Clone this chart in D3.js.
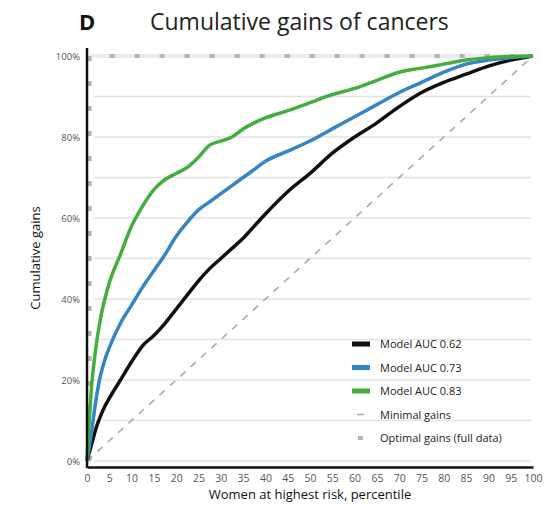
<!DOCTYPE html>
<html>
<head>
<meta charset="utf-8">
<script src="https://cdn.jsdelivr.net/npm/d3@7"></script>
<style>
  body { margin: 0; background: #fff; }
  svg { font-family: "Open Sans", "Noto Sans", sans-serif; }
</style>
</head>
<body>
<div id="chart"></div>
<script>
// percentile of women (x) and cumulative gains in % (y)
var pct = [0, 1, 2, 3, 4, 5, 7.5, 10, 12.5, 15, 17.5, 20, 22.5, 25, 27.5, 30, 32.5, 35, 37.5, 40,
           45, 50, 55, 60, 65, 70, 75, 80, 85, 90, 95, 100];
var auc62 = [0, 4, 8, 11, 13.5, 15.5, 20, 24.5, 28.5, 31, 34, 37.5, 41, 44.5, 47.5, 50, 52.5, 55, 58, 61,
             66.5, 71, 76, 80, 83.5, 87.5, 91, 93.5, 95.5, 97.5, 99, 100];
var auc73 = [0, 7, 15, 21, 25, 28, 34, 38.5, 43, 47, 51, 55.5, 59, 62, 64, 66, 68, 70, 72, 74,
             76.5, 79, 82, 85, 88, 91, 93.5, 96, 98, 99, 99.6, 100];
var auc83 = [0, 18, 28, 35, 40, 44, 51, 58, 63, 67, 69.5, 71, 72.5, 75, 78, 79, 80, 82, 83.5, 84.7,
             86.5, 88.5, 90.5, 92, 94, 96, 97, 98, 99, 99.6, 99.9, 100];
var minimal = [[0, 0], [100, 100]];
var optimal = [[0.6, 0], [0.6, 100], [100, 100]];

var seriesNames = ["Model AUC 0.62", "Model AUC 0.73", "Model AUC 0.83"];
var seriesColors = ["#111111", "#3584c4", "#45ad3e"];
var xTicks = d3.range(0, 101, 5);
var yTicks = [0, 20, 40, 60, 80, 100];
var gridVals = d3.range(0, 100, 10);

var W = 559, H = 505;
var x = d3.scaleLinear().domain([0, 100]).range([87, 533]);
var y = d3.scaleLinear().domain([0, 100]).range([461, 56]);

var svg = d3.select("#chart").append("svg")
    .attr("width", W)
    .attr("height", H);

// grid
svg.append("g").selectAll("line")
    .data(gridVals)
    .enter().append("line")
    .attr("x1", 94).attr("x2", 531)
    .attr("y1", function(d) { return y(d); })
    .attr("y2", function(d) { return y(d); })
    .attr("stroke", "#e2e2e2")
    .attr("stroke-width", 1.5);

var line = d3.line()
    .x(function(d) { return x(d[0]); })
    .y(function(d) { return y(d[1]); });

// optimal gains
svg.append("path")
    .datum(optimal.slice(1))
    .attr("d", line)
    .attr("fill", "none")
    .attr("stroke", "#ececec")
    .attr("stroke-width", 4);
svg.append("path")
    .datum(optimal)
    .attr("d", line)
    .attr("fill", "none")
    .attr("stroke", "#b4b4b4")
    .attr("stroke-width", 4)
    .attr("stroke-dasharray", "5,20");

// minimal gains
svg.append("path")
    .datum(minimal)
    .attr("d", line)
    .attr("fill", "none")
    .attr("stroke", "#aaaaaa")
    .attr("stroke-width", 1.6)
    .attr("stroke-dasharray", "7,7");

// model curves
[auc62, auc73, auc83].forEach(function(vals, i) {
    svg.append("path")
        .datum(pct.map(function(p, j) { return [p, vals[j]]; }))
        .attr("d", line.curve(d3.curveMonotoneX))
        .attr("fill", "none")
        .attr("stroke", seriesColors[i])
        .attr("stroke-width", 3.5)
        .attr("stroke-linejoin", "round");
});
line.curve(d3.curveLinear);

// axes
var xAxis = svg.append("g")
    .attr("transform", "translate(0,467)")
    .call(d3.axisBottom(x).tickValues(xTicks).tickSize(0).tickPadding(8));
xAxis.select(".domain").attr("stroke", "#111").attr("stroke-width", 2.5);
xAxis.selectAll("text")
    .attr("fill", "#555")
    .attr("font-size", 10.5)
    .attr("font-family", "Open Sans, sans-serif");

var yAxis = svg.append("g")
    .attr("transform", "translate(87,0)")
    .call(d3.axisLeft(y).tickValues(yTicks).tickSize(0).tickPadding(7)
        .tickFormat(function(d) { return d + "%"; }));
yAxis.select(".domain").remove();
svg.append("line")
    .attr("x1", 87).attr("x2", 87)
    .attr("y1", 48).attr("y2", 468)
    .attr("stroke", "#111").attr("stroke-width", 2.5);
yAxis.selectAll("text")
    .attr("fill", "#555")
    .attr("font-size", 9.5)
    .attr("font-family", "Open Sans, sans-serif");

// titles
svg.append("text")
    .attr("x", 79).attr("y", 30)
    .attr("font-size", 22)
    .attr("font-weight", "bold")
    .attr("fill", "#111")
    .text("D");
svg.append("text")
    .attr("x", 150).attr("y", 30)
    .attr("font-size", 23)
    .attr("fill", "#222")
    .text("Cumulative gains of cancers");
svg.append("text")
    .attr("x", 310).attr("y", 499)
    .attr("text-anchor", "middle")
    .attr("font-size", 13)
    .attr("fill", "#111")
    .text("Women at highest risk, percentile");
svg.append("text")
    .attr("transform", "translate(40,258) rotate(-90)")
    .attr("text-anchor", "middle")
    .attr("font-size", 13)
    .attr("fill", "#111")
    .text("Cumulative gains");

// legend
var legendItems = [
    { name: seriesNames[0], color: seriesColors[0], type: "solid" },
    { name: seriesNames[1], color: seriesColors[1], type: "solid" },
    { name: seriesNames[2], color: seriesColors[2], type: "solid" },
    { name: "Minimal gains", color: "#aaaaaa", type: "minimal" },
    { name: "Optimal gains (full data)", color: "#b4b4b4", type: "optimal" }
];
var legend = svg.append("g").attr("transform", "translate(352,344)");
var rows = legend.selectAll("g")
    .data(legendItems)
    .enter().append("g")
    .attr("transform", function(d, i) { return "translate(0," + (i * 23.5) + ")"; });
rows.append("line")
    .attr("x1", function(d) { return d.type == "solid" ? 0 : d.type == "minimal" ? 5 : 6; })
    .attr("x2", function(d) { return d.type == "solid" ? 18 : d.type == "minimal" ? 12 : 11; })
    .attr("y1", 0).attr("y2", 0)
    .attr("stroke", function(d) { return d.color; })
    .attr("stroke-width", function(d) { return d.type == "solid" ? 5 : d.type == "minimal" ? 1.5 : 4; });
rows.append("text")
    .attr("x", 28).attr("y", 4)
    .attr("font-size", 11)
    .attr("fill", "#222")
    .text(function(d) { return d.name; });
</script>
</body>
</html>
